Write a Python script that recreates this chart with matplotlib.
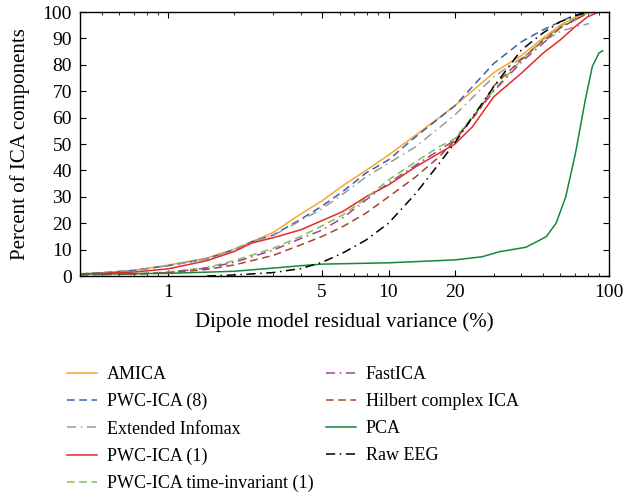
import numpy as np
import matplotlib
matplotlib.use("Agg")
import matplotlib.pyplot as plt
from matplotlib.ticker import FixedLocator, NullFormatter, LogLocator

# residual variance (%) sample points, per method
amica_x = [0.4, 0.5, 0.7, 1, 1.5, 2, 2.4, 3, 4, 5, 6.2, 7.9, 10, 13.3, 20, 30, 40, 50, 60, 70, 80, 90]
amica_y = [0.8, 1.2, 2.2, 4.1, 6.8, 10.2, 13, 16.5, 23.5, 28.5, 34.2, 40, 45.8, 53.4, 64.5, 77, 83.5, 90, 95, 98, 99.5, 100]

pwc8_x = [0.4, 0.5, 0.7, 1, 1.5, 2, 2.4, 3, 4, 5, 6.2, 7.9, 10, 13.3, 20, 30, 40, 50, 60, 70, 80]
pwc8_y = [0.8, 1.2, 2.1, 3.9, 6.5, 10, 13, 15.5, 21.5, 26.5, 32, 39, 44, 52.8, 64.5, 80.5, 88.7, 93.2, 96.3, 98.9, 100]

infomax_x = [0.4, 0.5, 0.7, 1, 1.5, 2, 2.4, 3, 4, 5, 6.2, 7.9, 10, 13.3, 20, 30, 40, 50, 60, 70, 81]
infomax_y = [0.8, 1.2, 2.1, 3.9, 6.5, 10, 13, 15.3, 21, 25.5, 31, 37.5, 42.7, 49, 61, 75.5, 82.5, 88.8, 92.6, 94.4, 95.6]

pwc1_x = [0.4, 0.5, 0.7, 1, 1.5, 2, 2.4, 3, 4, 5, 6.2, 7.9, 10, 13.3, 20, 24, 30, 40, 50, 60, 70, 80, 90]
pwc1_y = [0.8, 1.0, 1.5, 2.7, 5.8, 9.3, 12.5, 14.5, 17.5, 21, 24.4, 30, 34.5, 41.4, 50, 56.5, 67.9, 76.8, 84.3, 89.4, 94.4, 98.2, 100]

pwc1ti_x = [0.4, 0.7, 1, 1.5, 2, 3, 4, 5, 6.2, 7.9, 10, 13.3, 17, 20, 30, 40, 50, 60, 70, 80]
pwc1ti_y = [0.5, 0.8, 1.5, 3.2, 5.8, 10.5, 15, 19, 23.1, 29.4, 36.4, 43.3, 49, 52, 70.5, 81.8, 89.4, 94.4, 97.6, 100]

fastica_x = [0.4, 0.7, 1, 1.5, 2, 3, 4, 5, 6.2, 7.9, 10, 13.3, 20, 30, 40, 50, 60, 70, 80]
fastica_y = [0.5, 0.7, 1.3, 3.0, 5.2, 9.8, 14.2, 17.4, 22, 28.8, 35.2, 42, 51.5, 70, 81, 88, 94, 97, 99.5]

hilbert_x = [0.4, 0.7, 1, 1.5, 2, 3, 4, 5, 6.2, 7.9, 10, 13.3, 17, 20, 25.8, 30, 40, 50, 60, 70, 80]
hilbert_y = [0.5, 0.7, 1.2, 2.5, 4.2, 7.8, 11.8, 15, 18.7, 23.8, 30, 37.6, 45.2, 51.5, 62.9, 72, 82, 89, 94, 97, 99.5]

pca_x = [0.4, 1, 2, 3, 4, 5, 10, 20, 26.6, 31.8, 42, 51.9, 57.5, 63.6, 70.4, 78, 83.9, 90, 93.6]
pca_y = [0.8, 1.0, 1.8, 3.0, 3.9, 4.5, 5.0, 6.1, 7.3, 9.2, 10.9, 14.9, 20, 30, 46.5, 66.7, 79.3, 84.5, 85.3]

raw_x = [1.5, 2, 3, 4, 5, 6.2, 7.9, 10, 13.3, 17, 20, 23.5, 30, 40, 50, 60, 70, 80]
raw_y = [0.0, 0.4, 1.3, 2.8, 5.2, 8.7, 13.6, 20, 31.3, 42.7, 50.5, 59, 71.7, 85.6, 92, 96.3, 98.5, 100]

plt.rcParams["font.family"] = ["Liberation Serif", "DejaVu Serif"]
plt.rcParams["font.size"] = 14

fig = plt.figure(figsize=(6.26, 4.92), dpi=100)
ax = fig.add_axes([0.128, 0.439, 0.845, 0.5366])

lw = 1.1
ax.plot(amica_x, amica_y, color="#F6A72F", lw=lw, ls="-", label="AMICA")
ax.plot(pwc8_x, pwc8_y, color="#3D5FB0", lw=lw, ls=(0, (5, 3)), label="PWC-ICA (8)")
ax.plot(infomax_x, infomax_y, color="#9A9A9A", lw=lw, ls=(0, (6, 3, 1, 3)), label="Extended Infomax")
ax.plot(pwc1_x, pwc1_y, color="#E52A2A", lw=lw, ls="-", label="PWC-ICA (1)")
ax.plot(pwc1ti_x, pwc1ti_y, color="#7DC24B", lw=lw, ls=(0, (5, 3)), label="PWC-ICA time-invariant (1)")
ax.plot(fastica_x, fastica_y, color="#A0409E", lw=lw, ls=(0, (6, 3, 1, 3)), label="FastICA")
ax.plot(hilbert_x, hilbert_y, color="#A3452F", lw=lw, ls=(0, (5, 3)), label="Hilbert complex ICA")
ax.plot(pca_x, pca_y, color="#14893A", lw=lw, ls="-", label="PCA")
ax.plot(raw_x, raw_y, color="black", lw=lw, ls=(0, (6, 3, 1, 3)), label="Raw EEG")

ax.set_xscale("log")
ax.set_xlim(0.4, 100)
ax.set_ylim(0, 100)
ax.xaxis.set_major_locator(FixedLocator([1, 5, 10, 20, 100]))
ax.set_xticklabels(["1", "5", "10", "20", "100"])
ax.xaxis.set_minor_locator(LogLocator(base=10, subs=np.arange(2, 10) * 0.1 * 10 / 10, numticks=20))
ax.xaxis.set_minor_formatter(NullFormatter())
ax.set_yticks(np.arange(0, 101, 10))

ax.tick_params(which="both", direction="in", top=True, right=True, labelsize=14)
ax.tick_params(which="major", length=4, pad=6)
ax.tick_params(which="minor", length=2.5)
for sp in ax.spines.values():
    sp.set_linewidth(1.0)

ax.set_xlabel("Dipole model residual variance (%)", fontsize=15, labelpad=8)
ax.set_ylabel("Percent of ICA components", fontsize=15, labelpad=9)

handles, labels = ax.get_legend_handles_labels()
fig.legend(handles, labels, loc="upper left", bbox_to_anchor=(0.107, 0.256), ncol=2,
           frameon=False, fontsize=13, handlelength=1.65, handletextpad=0.55,
           columnspacing=0.7, labelspacing=0.56, borderaxespad=0, borderpad=0)

fig.savefig("out.png", dpi=100)
